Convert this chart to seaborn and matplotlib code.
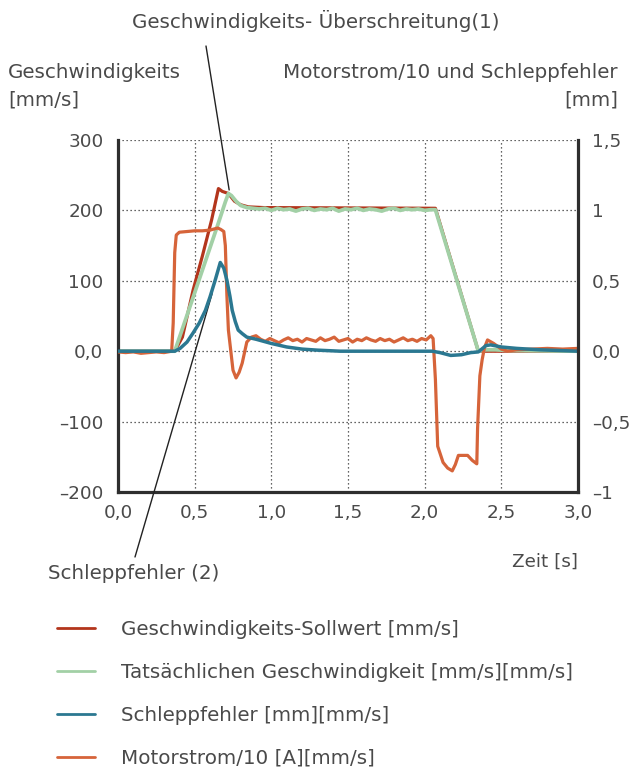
import numpy as np
import pandas as pd
import seaborn as sns
import matplotlib
matplotlib.use("Agg")
import matplotlib.pyplot as plt
from matplotlib.lines import Line2D

# ---------------- data ----------------
# Geschwindigkeits-Sollwert [mm/s] (left axis)
t_set = [0.00, 0.37, 0.42, 0.49, 0.55, 0.61, 0.655, 0.68, 0.72, 0.76, 0.80, 0.85, 0.95, 2.07, 2.35, 3.00]
v_set = [0, 0, 20, 87, 135, 186, 231, 227, 224, 213, 208, 205, 204, 203, 0, 0]

# Tatsaechliche Geschwindigkeit [mm/s] (left axis)
t_act = [0.00, 0.37, 0.45, 0.55, 0.65, 0.70, 0.72, 0.74, 0.77, 0.80, 0.84, 0.88, 0.92, 0.96,
         1.00, 1.04, 1.08, 1.12, 1.16, 1.20, 1.24, 1.28, 1.32, 1.36, 1.40, 1.44, 1.48, 1.52,
         1.56, 1.60, 1.64, 1.68, 1.72, 1.76, 1.80, 1.84, 1.88, 1.92, 1.96, 2.00, 2.04, 2.07,
         2.35, 2.40, 2.46, 2.55, 3.00]
v_act = [0, 0, 51, 115, 179, 212, 224, 221, 213, 207, 204, 203, 202, 203,
         200, 203, 201, 202, 199, 202, 203, 200, 202, 201, 203, 199, 202, 201,
         203, 200, 202, 201, 199, 202, 203, 200, 202, 201, 202, 200, 201, 201,
         0, 2, 2, 1, 0]

# Schleppfehler [mm] (right axis)
t_err = [0.00, 0.37, 0.405, 0.45, 0.49, 0.53, 0.57, 0.60, 0.634, 0.667, 0.69, 0.71, 0.73,
         0.745, 0.765, 0.784, 0.81, 0.84, 0.90, 0.95, 1.00, 1.10, 1.20, 1.30, 1.45, 2.05,
         2.10, 2.17, 2.24, 2.30, 2.35, 2.40, 2.43, 2.50, 2.60, 2.75, 3.00]
v_err = [0, 0, 0.02, 0.065, 0.13, 0.2, 0.29, 0.385, 0.505, 0.63, 0.59, 0.505, 0.39,
         0.29, 0.21, 0.15, 0.125, 0.1, 0.085, 0.07, 0.055, 0.03, 0.015, 0.0075, 0, 0,
         -0.01, -0.03, -0.025, -0.01, -0.005, 0.04, 0.045, 0.03, 0.02, 0.01, 0]

# Motorstrom/10 (right axis)
t_mot = [0.00, 0.05, 0.10, 0.15, 0.20, 0.25, 0.30, 0.35, 0.36, 0.37, 0.38, 0.40, 0.45, 0.50,
         0.55, 0.60, 0.65, 0.67, 0.69, 0.70, 0.71, 0.72, 0.73, 0.75, 0.77, 0.79, 0.81, 0.84,
         0.87, 0.90, 0.93, 0.96, 0.99, 1.02, 1.05, 1.08, 1.11, 1.14, 1.17, 1.20, 1.23, 1.26,
         1.29, 1.32, 1.35, 1.38, 1.41, 1.44, 1.47, 1.50, 1.53, 1.56, 1.59, 1.62, 1.65, 1.68,
         1.71, 1.74, 1.77, 1.80, 1.83, 1.86, 1.89, 1.92, 1.95, 1.98, 2.01, 2.04, 2.055, 2.07,
         2.085, 2.12, 2.15, 2.18, 2.20, 2.22, 2.28, 2.31, 2.34, 2.345, 2.36, 2.375, 2.39, 2.41,
         2.45, 2.50, 2.54, 2.60, 2.70, 2.80, 2.90, 3.00]
v_mot = [-0.005, -0.01, -0.005, -0.015, -0.01, -0.005, -0.01, 0, 0.2, 0.7, 0.825, 0.845, 0.85, 0.855,
         0.855, 0.86, 0.875, 0.865, 0.85, 0.75, 0.4, 0.15, 0.055, -0.135, -0.19, -0.15, -0.085, 0.065,
         0.1, 0.11, 0.085, 0.07, 0.09, 0.075, 0.06, 0.08, 0.095, 0.075, 0.085, 0.065, 0.09, 0.08,
         0.07, 0.095, 0.075, 0.085, 0.1, 0.07, 0.08, 0.09, 0.065, 0.085, 0.075, 0.095, 0.08, 0.07,
         0.09, 0.075, 0.085, 0.065, 0.08, 0.095, 0.075, 0.085, 0.07, 0.09, 0.08, 0.11, 0.09, -0.2,
         -0.675, -0.79, -0.83, -0.85, -0.805, -0.74, -0.74, -0.775, -0.8, -0.55, -0.175, -0.06, 0.025, 0.08,
         0.055, 0.015, 0, 0.01, 0.015, 0.02, 0.015, 0.02]

x_ticks = [0.0, 0.5, 1.0, 1.5, 2.0, 2.5, 3.0]
x_labels = ["0,0", "0,5", "1,0", "1,5", "2,0", "2,5", "3,0"]
yl_ticks = [-200, -100, 0, 100, 200, 300]
yl_labels = ["\u2013200", "\u2013100", "0,0", "100", "200", "300"]
yr_ticks = [-1, -0.5, 0, 0.5, 1, 1.5]
yr_labels = ["\u20131", "\u20130,5", "0,0", "0,5", "1", "1,5"]

series_names = ["Geschwindigkeits-Sollwert [mm/s]",
                "Tats\u00e4chlichen Geschwindigkeit [mm/s][mm/s]",
                "Schleppfehler [mm][mm/s]",
                "Motorstrom/10 [A][mm/s]"]

# ---------------- style ----------------
C_SET = "#b3351c"
C_ACT = "#a2d0a6"
C_ERR = "#2b7891"
C_MOT = "#d6643a"
TXT = "#4a4a4a"

sns.set_theme(style="white")
plt.rcParams["font.family"] = ["DejaVu Sans"]
FS = 13.2      # tick labels
FL = 14.3      # labels, annotations, legend

W, H = 633, 769
fig = plt.figure(figsize=(W / 100, H / 100), dpi=100)
ax = fig.add_axes([118 / W, 1 - 492 / H, (578 - 118) / W, (492 - 140) / H])
ax2 = ax.twinx()

df_set = pd.DataFrame({"t": t_set, "v": v_set})
df_act = pd.DataFrame({"t": t_act, "v": v_act})
df_err = pd.DataFrame({"t": t_err, "v": v_err})
df_mot = pd.DataFrame({"t": t_mot, "v": v_mot})

LW = 2.3
sns.lineplot(data=df_set, x="t", y="v", ax=ax, color=C_SET, lw=LW, sort=False, estimator=None)
sns.lineplot(data=df_act, x="t", y="v", ax=ax, color=C_ACT, lw=LW + 0.4, sort=False, estimator=None)
sns.lineplot(data=df_mot, x="t", y="v", ax=ax2, color=C_MOT, lw=LW, sort=False, estimator=None)
sns.lineplot(data=df_err, x="t", y="v", ax=ax2, color=C_ERR, lw=LW + 0.2, sort=False, estimator=None)

ax.set_xlim(0, 3)
ax.set_ylim(-200, 300)
ax2.set_ylim(-1, 1.5)
ax.set_xlabel("")
ax.set_ylabel("")
ax2.set_ylabel("")

ax.set_xticks(x_ticks, x_labels)
ax.set_yticks(yl_ticks, yl_labels)
ax2.set_yticks(yr_ticks, yr_labels)

ax.tick_params(axis="both", length=0, labelsize=FS, labelcolor=TXT)
ax.tick_params(axis="y", pad=10.5)
ax.tick_params(axis="x", pad=9)
ax2.tick_params(axis="y", length=0, labelsize=FS, labelcolor=TXT, pad=10)

ax.grid(True, color="#333333", linestyle=(0, (1, 2.2)), linewidth=0.9)
ax2.grid(False)

for sp in ["top", "right"]:
    ax.spines[sp].set_visible(False)
for sp in ["top", "left", "bottom"]:
    ax2.spines[sp].set_visible(False)
for s in [ax.spines["left"], ax.spines["bottom"], ax2.spines["right"]]:
    s.set_visible(True)
    s.set_linewidth(2.3)
    s.set_color("#2e2e2e")
ax.patch.set_visible(False)

# ---------------- texts ----------------
def ftext(x, y, s, size=FL, **kw):
    fig.text(x / W, 1 - y / H, s, fontsize=size, color=TXT, va="baseline", **kw)

ftext(8, 78, "Geschwindigkeits")
ftext(8, 105, "[mm/s]")
ftext(618, 78, "Motorstrom/10 und Schleppfehler", ha="right")
ftext(618, 105, "[mm]", ha="right")
ftext(316, 28, "Geschwindigkeits- \u00dcberschreitung(1)", ha="center")
ftext(48, 579, "Schleppfehler (2)")
ftext(578, 567, "Zeit [s]", size=FS, ha="right")

# annotation leader lines
ax.annotate("", xy=(0.725, 229), xycoords="data", xytext=(206, H - 46), textcoords="figure pixels",
            arrowprops=dict(arrowstyle="-", lw=1.0, color="#222222", shrinkA=0, shrinkB=0),
            annotation_clip=False)
ax.annotate("", xy=(0.614, 82), xycoords="data", xytext=(135, H - 557), textcoords="figure pixels",
            arrowprops=dict(arrowstyle="-", lw=1.0, color="#222222", shrinkA=0, shrinkB=0),
            annotation_clip=False)

# ---------------- legend ----------------
handles = [Line2D([], [], color=c, lw=2.0) for c in [C_SET, C_ACT, C_ERR, C_MOT]]
leg = fig.legend(handles, series_names, loc="upper left",
                 bbox_to_anchor=(57 / W, 1 - 620 / H), frameon=False,
                 fontsize=FL, handlelength=1.9, handletextpad=1.3,
                 labelspacing=1.2, borderpad=0, borderaxespad=0)
for t in leg.get_texts():
    t.set_color(TXT)

fig.savefig("out.png", dpi=100)
